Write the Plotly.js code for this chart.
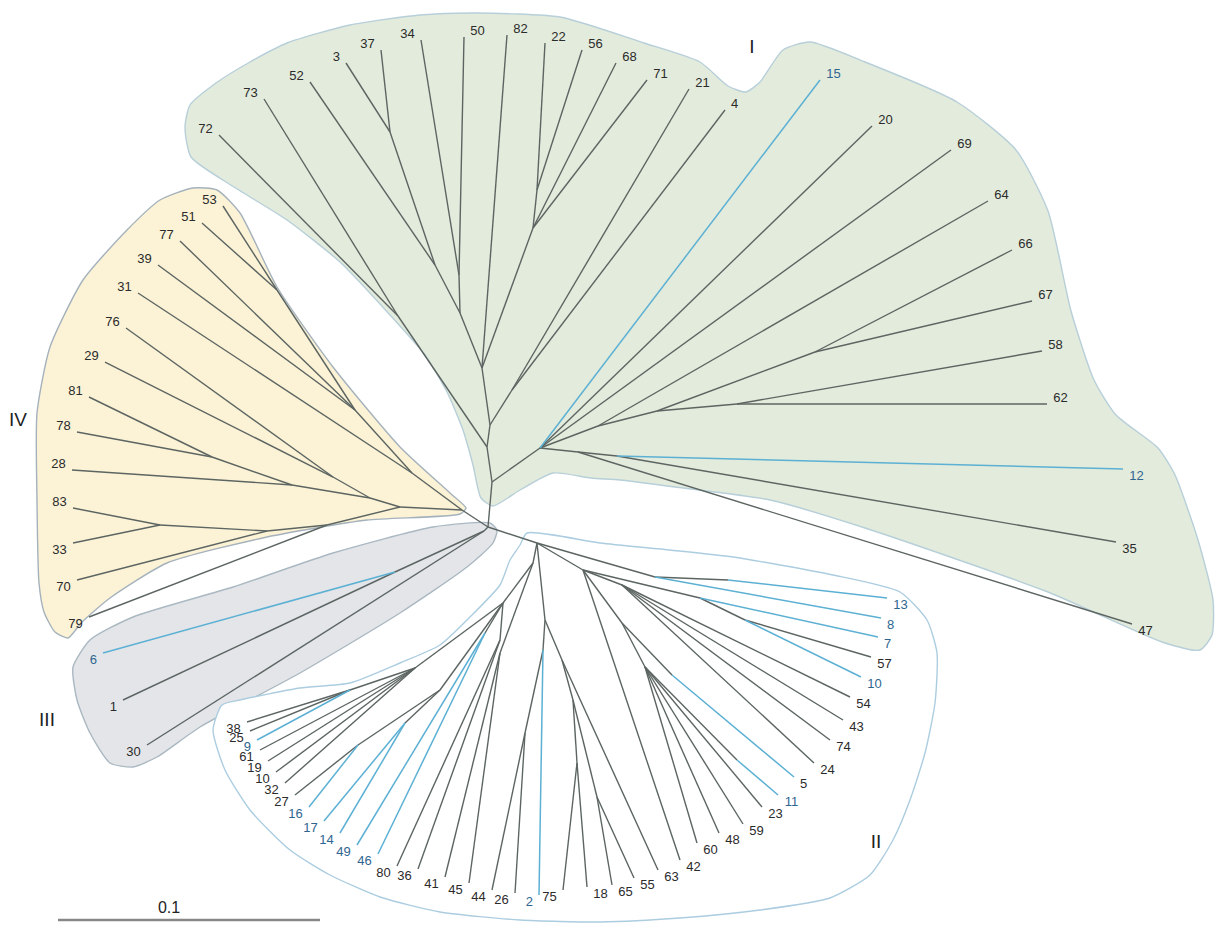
<!DOCTYPE html>
<html><head><meta charset="utf-8">
<script src="https://cdn.plot.ly/plotly-3.0.1.min.js"></script>
<style>html,body{margin:0;padding:0;background:#fff}#chart{width:1216px;height:925px}</style>
</head><body><div id="chart"></div>
<script>
// ---- Tree data (node positions, layout units) ----
const rootName = "C", rootX = 488, rootY = 527;

// Group I
const gI_name = ["T1","T2","NC","N7273","72","73","NB","N214","21","4","NA","82","ND","N2256","22","56","68","71","N52","N3450","52","N337","3","37","34","50","R","15","20","69","N64","64","N657","N815","66","67","N737","58","62","N47","47","N12","12","35"];
const gI_parent = ["C","T1","T2","T2","N7273","N7273","NC","NC","N214","N214","NB","NB","NB","ND","N2256","N2256","ND","ND","NA","NA","N52","N52","N337","N337","N3450","N3450","T1","R","R","R","R","N64","N64","N657","N815","N815","N657","N737","N737","R","N47","N47","N12","N12"];
const gI_x = [492,487,490,398,219,264,482,512,689,725,460,507,533,537,545,582,616,647,435,459,310,390,346,381,421,464,540,820,872,951,598,988,657,815,1012,1032,737,1042,1047,578,1132,617,1123,1116];
const gI_y = [482,447,425,316,135,99,368,390,89,110,313,35,228,190,43,50,63,80,265,275,82,132,63,50,40,37,448,80,126,150,426,201,411,352,250,301,404,351,404,452,624,456,469,542];

// Group IV
const gIV_name = ["G4","NIV3","NIV1","N5351","53","51","77","39","31","NIV5","NIV4","N7629","76","29","N28","28","N8178","81","78","N79","79","N70","70","N8333","83","33"];
const gIV_parent = ["C","G4","NIV3","NIV1","N5351","N5351","NIV1","NIV1","NIV3","G4","NIV5","NIV4","N7629","N7629","NIV4","N28","N28","N8178","N8178","NIV5","N79","N79","N70","N70","N8333","N8333"];
const gIV_x = [462,412,355,277,223,202,180,158,138,400,370,333,126,105,292,72,212,89,77,327,89,267,77,160,73,73];
const gIV_y = [510,473,410,290,206,223,241,265,293,507,498,477,328,362,485,470,457,397,432,525,617,531,580,525,508,543];

// Group III
const gIII_name = ["G3","N61","6","1","30"];
const gIII_parent = ["C","G3","N61","N61","G3"];
const gIII_x = [484,395,103,123,147];
const gIII_y = [531,572,653,700,745];

// Group II
const gII_name = ["G2","L0","L1n","LA","L1a","38","25","9","61","19","10b","32","Nlow","N2716","27","16","N1417","17","14","N4946","49","46","N8036","80","36","N4145","41","45","M0","M1","2","N2644","26","44","M2","63","M3","N7518","75","18","N6555","65","55","U1","N13","13","8","Rt0","S1","7","S2","57","10a","P1","54","43","74","24","42","P3","N5","5","P4","60","48","59","23","N11","11"];
const gII_parent = ["C","G2","L0","L1n","LA","L1a","L1a","L1a","LA","LA","LA","LA","L1n","Nlow","N2716","N2716","Nlow","N1417","N1417","L1n","N4946","N4946","L1n","N8036","N8036","L0","N4145","N4145","G2","M0","M1","M1","N2644","N2644","M0","M2","M2","M3","N7518","N7518","M3","N6555","N6555","G2","U1","N13","U1","G2","Rt0","S1","S1","S2","S2","Rt0","P1","P1","P1","P1","Rt0","Rt0","P3","N5","P3","P4","P4","P4","P4","P4","N11"];
const gII_x = [537,533,503,415,350,247,250,257,260,268,276,285,440,358,295,309,405,324,340,485,357,378,500,397,418,500,445,469,545,543,539,525,515,492,562,658,573,577,563,587,597,612,634,655,728,887,881,583,700,878,745,871,861,622,850,843,830,814,680,622,672,794,645,697,719,743,762,737,778];
const gII_y = [543,563,603,668,690,722,731,740,750,761,772,783,690,745,795,807,723,821,833,633,845,854,640,866,869,653,877,883,620,650,895,733,893,890,660,870,700,763,890,887,797,885,878,577,580,598,618,570,598,637,620,657,677,585,697,720,740,763,860,623,675,777,667,843,833,824,807,760,795];

// Highlighted taxa
const blueBranches = ["15","12","13","8","7","10a","5","11","2","46","49","14","17","16","9","6"];
const blueLabels = ["15","12","13","8","7","10a","11","2","46","49","14","17","16","9","6"];

// Clade outlines
const hullI_x = [185,190,216,250,287,350,420,476,560,644,700,728,746,760,783,810,865,957,1016,1048,1071,1094,1116,1158,1175,1198,1213,1212,1200,1162,1048,865,770,683,620,591,553,520,493,481,473,463,447,425,390,340,287,234,191,185];
const hullI_y = [127,105,83,62,43,25,15,13,17,43,62,86,92,82,50,42,62,102,150,211,311,380,415,448,475,540,600,635,650,642,592,528,500,488,480,478,473,490,506,498,465,430,392,355,315,262,220,187,157,127];
const hullIV_x = [193,217,240,277,333,400,450,466,460,367,267,167,110,82,68,55,44,39,37,37,50,83,127,160,193];
const hullIV_y = [188,190,213,287,367,447,493,508,514,520,537,563,598,622,638,632,612,583,500,413,347,280,230,200,188];
const hullIII_x = [490,433,333,233,133,90,73,77,90,110,133,157,200,300,400,467,493,497,490];
const hullIII_y = [523,527,553,587,617,640,667,700,733,763,767,757,727,673,613,567,543,530,523];
const hullII_x = [527,600,670,733,833,900,927,937,935,925,910,893,870,830,760,680,600,520,440,380,330,290,250,225,213,222,240,300,350,400,440,470,500,510,520,527];
const hullII_y = [533,543,550,557,575,592,620,653,703,753,800,840,875,898,910,918,922,920,912,897,875,850,810,770,730,705,700,688,683,663,645,617,585,560,545,533];

const cladeNames = ["I","II","III","IV"];
const cladeX = [752,876,47,18];
const cladeY = [48,843,721,421];

const scaleLabel = "0.1";
const scaleX = [58,320];
const scaleY = [920,920];

// ---- Build ----
const names = [rootName].concat(gI_name, gIV_name, gIII_name, gII_name);
const parents = [null].concat(gI_parent, gIV_parent, gIII_parent, gII_parent);
const xs = [rootX].concat(gI_x, gIV_x, gIII_x, gII_x);
const ys = [rootY].concat(gI_y, gIV_y, gIII_y, gII_y);
const idx = {};
names.forEach((n,i)=>idx[n]=i);

const darkX=[],darkY=[],blueX=[],blueY=[];
const labX=[],labY=[],labT=[],labC=[];
names.forEach((n,i)=>{
  const p = parents[i];
  if(p===null) return;
  const j = idx[p];
  const isBlue = blueBranches.includes(n);
  const tx = isBlue?blueX:darkX, ty = isBlue?blueY:darkY;
  tx.push(xs[j],xs[i],null); ty.push(ys[j],ys[i],null);
  if(/^\d+[ab]?$/.test(n)){
    const t = n.replace(/[ab]$/,'');
    const dx = xs[i]-xs[j], dy = ys[i]-ys[j];
    const L = Math.hypot(dx,dy);
    const hw = t.length*3.7;
    labX.push(xs[i] + (dx>=0?1:-1)*(6+hw));
    labY.push(ys[i] + (dy/L>0.01?8:-5));
    labT.push(t);
    labC.push(blueLabels.includes(n)?'#2f6690':'#2b2b2b');
  }
});

const hull = (x,y,fill,line)=>({x:x,y:y,type:'scatter',mode:'lines',fill:'toself',fillcolor:fill,
  line:{color:line,width:1.4,shape:'spline',smoothing:0.6},hoverinfo:'skip',showlegend:false});

const traces = [
  hull(hullI_x,hullI_y,'rgb(227,235,220)','rgb(183,207,217)'),
  hull(hullIV_x,hullIV_y,'rgb(252,243,214)','rgb(165,178,188)'),
  hull(hullIII_x,hullIII_y,'rgb(227,229,232)','rgb(170,184,194)'),
  hull(hullII_x,hullII_y,'rgba(255,255,255,1)','rgb(172,205,224)'),
  {x:darkX,y:darkY,type:'scatter',mode:'lines',line:{color:'rgb(92,101,98)',width:1.4},hoverinfo:'skip',showlegend:false},
  {x:blueX,y:blueY,type:'scatter',mode:'lines',line:{color:'rgb(92,176,212)',width:1.5},hoverinfo:'skip',showlegend:false},
  {x:labX,y:labY,text:labT,type:'scatter',mode:'text',textposition:'middle center',
   textfont:{family:'Liberation Sans, Arial, sans-serif',size:13,color:labC},hoverinfo:'skip',showlegend:false},
  {x:cladeX,y:cladeY,text:cladeNames,type:'scatter',mode:'text',textposition:'middle center',
   textfont:{family:'Liberation Sans, Arial, sans-serif',size:19,color:'#222'},hoverinfo:'skip',showlegend:false},
  {x:scaleX,y:scaleY,type:'scatter',mode:'lines',line:{color:'rgb(135,135,135)',width:2.5},hoverinfo:'skip',showlegend:false},
  {x:[(scaleX[0]+scaleX[1])/2-20],y:[909],text:[scaleLabel],type:'scatter',mode:'text',textposition:'middle center',
   textfont:{family:'Liberation Sans, Arial, sans-serif',size:16,color:'#222'},hoverinfo:'skip',showlegend:false}
];

const layout = {
  width:1216,height:925,margin:{l:0,r:0,t:0,b:0},
  paper_bgcolor:'#fff',plot_bgcolor:'#fff',showlegend:false,
  xaxis:{range:[0,1216],visible:false,fixedrange:true},
  yaxis:{range:[925,0],visible:false,fixedrange:true}
};
Plotly.newPlot('chart',traces,layout,{staticPlot:true,displayModeBar:false});
</script>
</body></html>
